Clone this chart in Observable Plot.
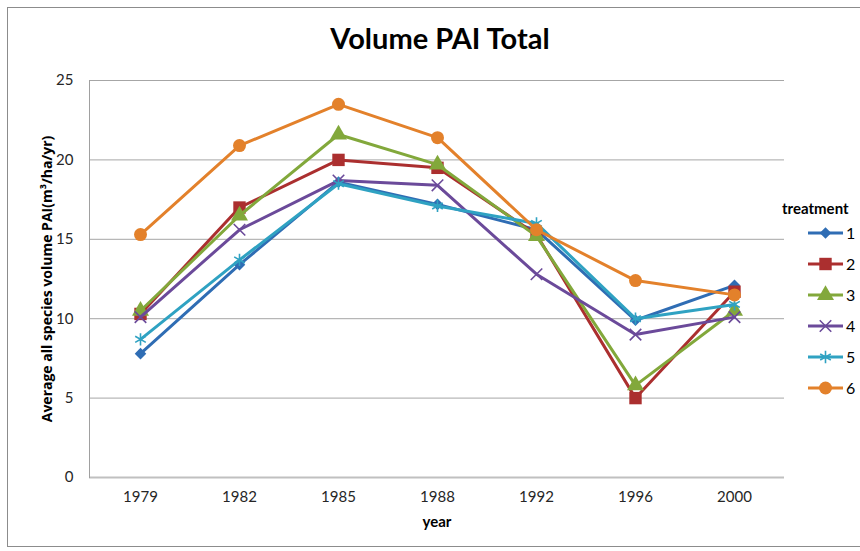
<!DOCTYPE html>
<html><head><meta charset="utf-8">
<script src="https://cdn.jsdelivr.net/npm/d3@7"></script>
<script src="https://cdn.jsdelivr.net/npm/@observablehq/plot@0.6"></script>
<style>
body{margin:0;background:#fff;}
#wrap{position:relative;width:860px;height:551px;overflow:hidden;font-family:Lato,"Open Sans",sans-serif;color:#000;}
#frame{position:absolute;left:7px;top:7px;width:900px;height:540px;border:1px solid #8c8c8c;box-sizing:border-box;}
#title{position:absolute;left:0;width:880px;top:20px;text-align:center;font-weight:bold;font-size:29px;line-height:35px;}
#chart{position:absolute;left:0;top:0;}
#legend{position:absolute;left:782px;top:199px;}
#legend .lt{font-weight:bold;font-size:15px;line-height:18px;margin-bottom:0px;}
#legend .row{height:31px;display:flex;align-items:center;font-size:16px;}
</style>
</head><body>
<div id="wrap">
  <div id="frame"></div>
  <div id="chart"></div>
  <div id="title">Volume PAI Total</div>
  <div id="legend"></div>
</div>
<script>
const years = ["1979","1982","1985","1988","1992","1996","2000"];
const treatments = ["1","2","3","4","5","6"];
const t1 = [7.8,13.4,18.6,17.2,15.6,9.9,12.1];
const t2 = [10.3,17.0,20.0,19.5,15.3,5.0,11.7];
const t3 = [10.5,16.5,21.6,19.7,15.2,5.8,10.5];
const t4 = [10.1,15.6,18.7,18.4,12.8,9.0,10.1];
const t5 = [8.7,13.7,18.5,17.1,16.0,10.0,10.9];
const t6 = [15.3,20.9,23.5,21.4,15.6,12.4,11.5];
const yTicks = [0,5,10,15,20,25];

const series = [t1,t2,t3,t4,t5,t6];
const colors = ["#2f6db4","#ab2f2f","#82a83b","#6b4a9a","#2fa2c2","#e3812b"];
const symbols = ["diamond2","square","triangle","times","asterisk","circle"];
const filled = [true,true,true,false,false,true];
const radii = [5.2,7,6.3,5.3,5.8,6.5];

const data = [];
series.forEach((vals,i)=>vals.forEach((v,j)=>data.push({treatment:treatments[i], year:years[j], value:v})));

const marks = [
  Plot.gridY(yTicks,{stroke:"#a6a6a6",strokeOpacity:1,strokeWidth:1}),
  Plot.ruleY([0],{stroke:"#c0c0c0",strokeWidth:2}),
  Plot.frame({anchor:"left",stroke:"#a0a0a0"}),
  Plot.axisY({ticks:yTicks,tickSize:0,tickPadding:16,label:null,fontSize:15,fill:"#262626"}),
  Plot.axisX({tickSize:0,tickPadding:14,label:null,fontSize:15,fill:"#262626"}),
  Plot.text(["Average all species volume PAI(m³/ha/yr)"],{frameAnchor:"left",textAnchor:"middle",rotate:-90,dx:-42,fontFamily:"'Open Sans', Lato, sans-serif",fontWeight:"bold",fontSize:14,fill:"#000"}),
  Plot.text(["year"],{frameAnchor:"bottom",dy:49,fontWeight:"bold",fontSize:15,fill:"#000"})
];
treatments.forEach((t,i)=>{
  const d = data.filter(r=>r.treatment===t);
  marks.push(Plot.line(d,{x:"year",y:"value",stroke:colors[i],strokeWidth:3}));
  marks.push(Plot.dot(d,{x:"year",y:"value",symbol:()=>symbols[i],r:radii[i],
    fill: filled[i]?colors[i]:"none", stroke: filled[i]?"none":colors[i], strokeWidth: filled[i]?0:1.6}));
});

const plot = Plot.plot({
  width:860, height:551,
  marginLeft:89, marginRight:76, marginTop:80, marginBottom:74,
  style:{fontFamily:"Lato, 'Open Sans', sans-serif", background:"transparent", overflow:"visible"},
  x:{type:"point",domain:years,padding:0.5},
  y:{domain:[0,25]},
  symbol:{type:"identity"},
  marks
});
document.getElementById("chart").appendChild(plot);

// legend
const leg = d3.select("#legend");
leg.append("div").attr("class","lt").text("treatment");
treatments.forEach((t,i)=>{
  const row = leg.append("div").attr("class","row");
  const svg = row.append("svg").attr("width",62).attr("height",20);
  svg.append("line").attr("x1",26).attr("x2",61).attr("y1",10).attr("y2",10).attr("stroke",colors[i]).attr("stroke-width",3);
  const symMap = {diamond2:d3.symbolDiamond2,square:d3.symbolSquare,triangle:d3.symbolTriangle,times:d3.symbolTimes,asterisk:d3.symbolAsterisk,circle:d3.symbolCircle};
  svg.append("path").attr("transform","translate(43.5,10)")
    .attr("d",d3.symbol(symMap[symbols[i]], Math.PI*radii[i]*radii[i])())
    .attr("fill",filled[i]?colors[i]:"none").attr("stroke",filled[i]?"none":colors[i]).attr("stroke-width",1.6);
  row.append("span").text(t).style("margin-left","2px");
});
</script>
</body></html>
